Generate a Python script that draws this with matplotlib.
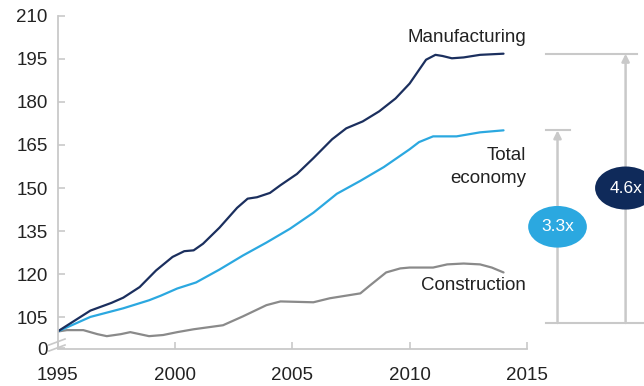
import matplotlib
matplotlib.use("Agg")
import matplotlib.pyplot as plt
from matplotlib.patches import Ellipse

plt.rcParams['font.family'] = ['Liberation Sans', 'DejaVu Sans']

# index, 1995 = 100
mfg_years = [1995.0, 1996.4, 1997.3, 1997.8, 1998.5, 1999.2, 1999.9, 2000.4, 2000.8, 2001.2,
             2001.9, 2002.65, 2003.1, 2003.5, 2004.05, 2004.5, 2005.2, 2005.9, 2006.7,
             2007.3, 2008.0, 2008.7, 2009.4, 2010.0, 2010.7, 2011.1, 2011.4, 2011.8,
             2012.3, 2013.0, 2014.0]
mfg_vals = [100, 107.3, 110, 111.8, 115.5, 121.3, 126, 128, 128.3, 130.6,
            136.2, 143.1, 146.3, 146.8, 148.3, 151, 154.9, 160.4, 167,
            170.8, 173.2, 176.7, 181.2, 186.4, 194.7, 196.4, 196, 195.2,
            195.5, 196.4, 196.8]

tot_years = [1995.0, 1996.4, 1997.8, 1998.9, 1999.4, 2000.1, 2000.9, 2001.9, 2002.9,
             2003.9, 2004.9, 2005.9, 2006.9, 2007.9, 2008.9, 2010.0, 2010.4, 2011.0,
             2012.0, 2013.0, 2014.0]
tot_vals = [100, 105.1, 108.1, 110.9, 112.5, 115, 117.1, 121.6, 126.5,
            131, 135.8, 141.4, 148, 152.5, 157.3, 163.5, 166, 168,
            168, 169.4, 170.1]

con_years = [1995.0, 1995.4, 1996.1, 1996.7, 1997.1, 1997.7, 1998.1, 1998.5, 1998.9,
             1999.5, 2000.1, 2000.8, 2002.05, 2002.9, 2003.9, 2004.5, 2005.9, 2006.6,
             2007.9, 2008.3, 2009.0, 2009.6, 2010.0, 2011.0, 2011.6, 2012.3, 2013.0,
             2013.5, 2014.0]
con_vals = [100, 100.5, 100.5, 99.1, 98.4, 99.1, 99.8, 99.1, 98.4,
            98.8, 99.8, 100.8, 102.2, 105.3, 109.2, 110.5, 110.2, 111.6,
            113.3, 116, 120.6, 122, 122.3, 122.3, 123.4, 123.7, 123.4,
            122.3, 120.6]

ytick_vals = [105, 120, 135, 150, 165, 180, 195, 210]
xtick_vals = [1995, 2000, 2005, 2010, 2015]
mult_total = "3.3x"
mult_mfg = "4.6x"

navy = "#1b2f5e"
light = "#2ba8e0"
grey = "#8a8a8a"
axgrey = "#c9c9c9"

fig = plt.figure(figsize=(6.44, 3.86), dpi=100)
ax = fig.add_axes([57.5 / 644, 1 - 348.5 / 386, (527 - 57.5) / 644, (348.5 - 15.8) / 386])

ybottom = 94.1
for xs, ys, c in [(con_years, con_vals, grey), (tot_years, tot_vals, light),
                  (mfg_years, mfg_vals, navy)]:
    ax.plot(xs, ys, color=c, lw=1.6, solid_capstyle='round', solid_joinstyle='round')

ax.set_xlim(1995, 2015)
ax.set_ylim(ybottom, 210)

ax.set_yticks([ybottom] + ytick_vals)
ax.set_yticklabels(["0"] + [str(v) for v in ytick_vals])
ax.set_xticks(xtick_vals)
ax.set_xticklabels([str(v) for v in xtick_vals])

for s in ['top', 'right']:
    ax.spines[s].set_visible(False)
for s in ['left', 'bottom']:
    ax.spines[s].set_color(axgrey)
    ax.spines[s].set_linewidth(1.3)

ax.tick_params(axis='y', direction='in', length=5, width=1.2, color=axgrey,
               labelsize=13.5, pad=7, labelcolor='#222222')
ax.tick_params(axis='x', direction='in', length=5, width=1.2, color=axgrey,
               labelsize=13.5, pad=13, labelcolor='#222222')

# axis break marks
for dy in (0, 6):
    ax.plot([49 / 644, 65 / 644], [1 - (345 + dy) / 386, 1 - (339 + dy) / 386],
            transform=fig.transFigure, color=axgrey, lw=1.2, clip_on=False)
# white gap so the axis looks broken
ax.plot([57.5 / 644, 57.5 / 644], [1 - 347 / 386, 1 - 337 / 386],
        transform=fig.transFigure, color='white', lw=2.5, clip_on=False, zorder=1)

# series labels
ax.text(2014.95, 202.3, "Manufacturing", ha='right', va='center', fontsize=13.5, color='#222222')
ax.text(2014.95, 157.3, "Total\neconomy", ha='right', va='center', fontsize=13.5,
        color='#222222', linespacing=1.45)
ax.text(2014.95, 116.1, "Construction", ha='right', va='center', fontsize=13.5, color='#222222')

# growth brackets on the right
base = 103
x_small = 2016.3
x_big = 2019.2
ax.plot([2015.8, 2020.2], [base, base], color=axgrey, lw=1.5, clip_on=False)
ax.plot([2015.8, 2019.7], [mfg_vals[-1], mfg_vals[-1]], color=axgrey, lw=1.5, clip_on=False)
ax.plot([2015.8, 2016.85], [tot_vals[-1], tot_vals[-1]], color=axgrey, lw=1.5, clip_on=False)
for xx, top in [(x_small, tot_vals[-1]), (x_big, mfg_vals[-1])]:
    ax.annotate("", xy=(xx, top), xytext=(xx, base), annotation_clip=False,
                arrowprops=dict(arrowstyle='-|>', color=axgrey, lw=1.8,
                                mutation_scale=11, shrinkA=0, shrinkB=0))

e1 = Ellipse((x_small, 136.5), 2.5, 14.5, facecolor=light, edgecolor='none', clip_on=False, zorder=5)
e2 = Ellipse((x_big, 150.0), 2.6, 15.0, facecolor="#0f2a5a", edgecolor='none', clip_on=False, zorder=5)
ax.add_patch(e1)
ax.add_patch(e2)
ax.text(x_small, 136.5, mult_total, ha='center', va='center', color='white', fontsize=12.5, zorder=6)
ax.text(x_big, 150.0, mult_mfg, ha='center', va='center', color='white', fontsize=12.5,
        zorder=6, clip_on=False)

fig.savefig("out.png", dpi=100)
